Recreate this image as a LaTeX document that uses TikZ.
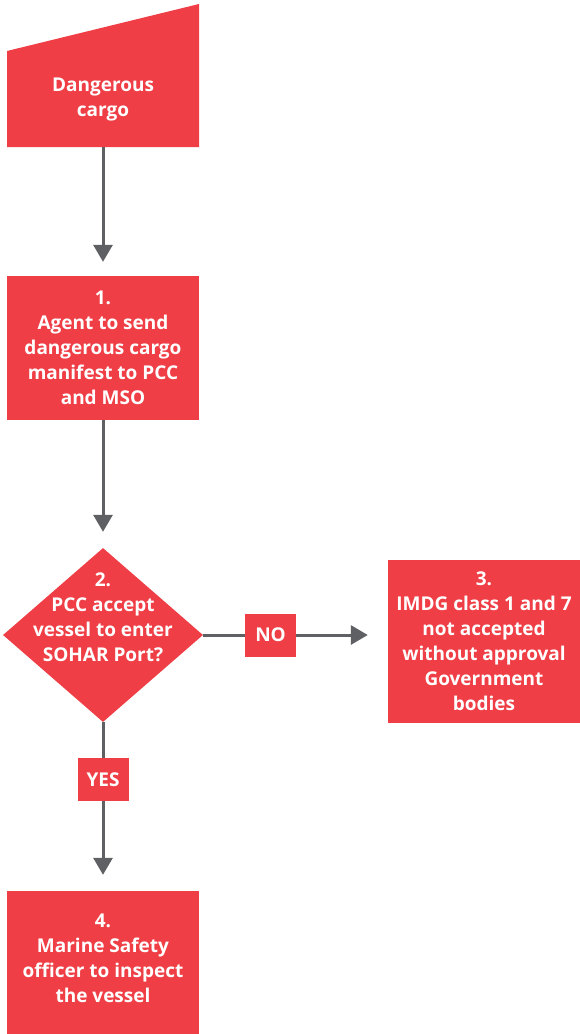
\documentclass[tikz,border=0pt]{standalone}
\usepackage{fontspec}
\setmainfont{Open Sans}
\usetikzlibrary{shapes.geometric,arrows.meta}
\definecolor{flowred}{HTML}{EF3E45}
\definecolor{flowgrey}{HTML}{5F6063}
\tikzset{
  txt/.style={font=\bfseries\fontsize{19}{25}\selectfont, text=white, align=center},
  stepbox/.style={rectangle, fill=flowred, minimum width=192pt, inner sep=0pt, txt},
  tagbox/.style={rectangle, fill=flowred, minimum width=51pt, minimum height=43pt, inner sep=0pt, txt},
  flow/.style={draw=flowgrey, line width=3pt, -{Triangle[length=17pt,width=19pt]}},
}
\begin{document}
\begin{tikzpicture}[x=1pt,y=-1pt]
\useasboundingbox (0,0) rectangle (580,1034);

% start: manual input shape
\fill[flowred] (7,51) -- (199,4) -- (199,147) -- (7,147) -- cycle;
\node[stepbox, minimum height=96pt] (start) at (103,99) {Dangerous\\cargo};

% step 1
\node[stepbox, minimum height=144pt] (s1) at (103,348)
  {1.\\Agent to send\\dangerous cargo\\manifest to PCC\\and MSO};

% step 2: decision
\node[diamond, fill=flowred, minimum width=200pt, minimum height=174pt, aspect=1.15, inner sep=0pt] (s2) at (103,635) {};
\node[txt] (s2t) at (103,617) {2.\\PCC accept\\vessel to enter\\SOHAR Port?};

% step 3
\node[stepbox, minimum height=163pt] (s3) at (484,641.5)
  {3.\\IMDG class 1 and 7\\not accepted\\without approval\\Government\\bodies};

% step 4
\node[stepbox, minimum height=143pt] (s4) at (103,962.5) {};
\node[txt] (s4t) at (103,958) {4.\\Marine Safety\\officer to inspect\\the vessel};

% connectors
\draw[flow, shorten >=14pt] (start.south) -- (s1.north);
\draw[flow, shorten >=16pt] (s1.south) -- (s2.north);
\draw[flow, shorten >=20pt] (s2.east) -- node[tagbox, pos=0.365] (no) {NO} (s2.east -| s3.west);
\draw[flow, shorten >=16pt] (s2.south) -- node[tagbox, pos=0.34] (yes) {YES} (s4.north);
\end{tikzpicture}
\end{document}
